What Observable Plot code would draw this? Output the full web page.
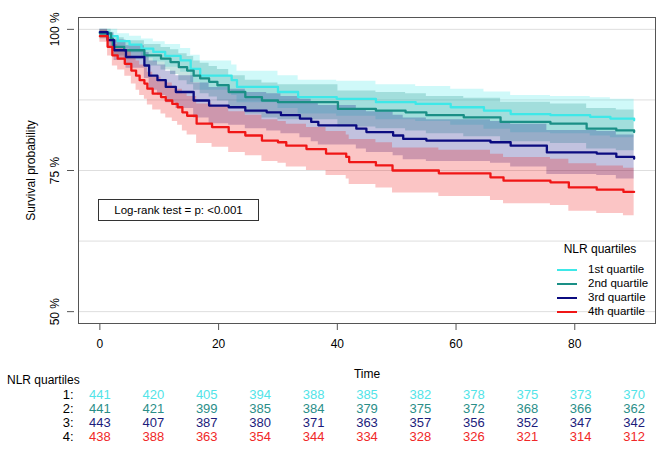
<!DOCTYPE html>
<html><head><meta charset="utf-8">
<script src="https://cdn.jsdelivr.net/npm/d3@7"></script>
<script src="https://cdn.jsdelivr.net/npm/@observablehq/plot@0.6"></script>
<style>
body{margin:0;background:#fff;font-family:"Liberation Sans",Arial,sans-serif;}
#wrap{position:relative;width:669px;height:453px;overflow:hidden;}
#wrap svg{display:block;}
.ov{position:absolute;font-family:"Liberation Sans",Arial,sans-serif;color:#000;white-space:nowrap;}
</style></head><body><div id="wrap"></div><script>
const groups = ["1st quartile","2nd quartile","3rd quartile","4th quartile"];
const lineColors = ["#3ee8e8","#1a8f86","#0b0b80","#f01616"];
const tableColors = ["#52e4e8","#2a8e88","#1c1c7c","#f02828"];
const rowLabels = ["1","2","3","4"];

// [time, survival %, lower CI %, upper CI %]
const q1 = [[0,99.5,98.5,100],[1.5,98.8,97.6,100],[3,97.9,96.6,99.2],[5,97.3,95.8,98.8],[7,96.6,94.9,98.3],[9,96.0,94.2,97.8],[11,95.3,93.3,97.3],[13.6,94.5,92.4,96.6],[15.3,93.0,90.6,95.4],[16.9,91.8,89.2,94.4],[22.2,91.0,88.3,93.7],[23.1,89.8,87.0,92.6],[30,88.9,86.0,91.8],[33.4,88.0,85.0,91.0],[39.9,87.7,84.6,90.8],[46.5,87.1,84.0,90.2],[53.2,86.8,83.7,89.9],[59.1,86.2,83.0,89.4],[64.7,85.6,82.3,88.9],[69.2,85.0,81.7,88.3],[75.9,84.8,81.5,88.1],[82.6,84.5,81.1,87.9],[86,84.2,80.8,87.6],[90,83.9,80.5,87.3]];
const q2 = [[0,99.3,98.3,100],[1.9,98.3,97.1,99.5],[2.2,96.9,95.3,98.5],[4.1,96.3,94.6,98.0],[7.5,95.4,93.5,97.3],[10.3,94.8,92.8,96.8],[11.9,94.2,92.0,96.4],[13.3,93.3,90.9,95.7],[14.7,92.7,90.2,95.2],[15.8,91.8,89.2,94.4],[16.9,91.3,88.6,94.0],[18.4,90.7,88.0,93.4],[19.8,90.1,87.3,92.9],[21.7,88.9,86.0,91.8],[24.5,88.0,85.0,91.0],[27.3,87.4,84.3,90.5],[30,87.1,84.0,90.2],[40.1,85.9,82.7,89.1],[46.5,85.6,82.4,88.8],[51.5,85.3,82.0,88.6],[55,84.8,81.5,88.1],[61.3,84.4,81.0,87.8],[67.5,83.6,80.1,87.1],[75.9,83.3,79.8,86.8],[82,82.4,78.8,86.0],[87,82.1,78.5,85.7],[90,81.8,78.2,85.4]];
const q3 = [[0,99.5,98.5,100],[1.3,98.1,96.8,99.4],[2.4,96.3,94.5,98.1],[4.4,95.1,93.1,97.1],[7.5,93.6,91.3,95.9],[8.3,91.8,89.2,94.4],[9.7,91.0,88.3,93.7],[11.1,89.8,87.0,92.6],[12.8,88.9,86.0,91.8],[15.8,87.4,84.3,90.5],[18.4,86.5,83.3,89.7],[21.7,86.2,83.0,89.4],[24.5,85.6,82.4,88.8],[28.1,85.3,82.0,88.6],[30.5,84.8,81.5,88.1],[33.7,84.2,80.8,87.6],[35.6,83.6,80.1,87.1],[36.8,83.0,79.5,86.5],[43.2,82.4,78.8,86.0],[44.9,81.8,78.2,85.4],[49.4,81.2,77.6,84.8],[51.1,80.6,76.9,84.3],[55,80.3,76.6,84.0],[65.8,80.0,76.3,83.7],[69.2,79.4,75.6,83.2],[75.3,78.2,74.3,82.1],[83.7,78.0,74.1,81.9],[87,77.4,73.5,81.3],[90,77.1,73.2,81.0]];
const q4 = [[0,98.8,97.7,99.9],[1.3,96.9,95.3,98.5],[2.1,95.4,93.5,97.3],[3.0,94.8,92.8,96.8],[4.2,93.9,91.7,96.1],[5.3,92.7,90.3,95.1],[6.1,91.8,89.2,94.4],[6.7,91.0,88.3,93.7],[7.5,90.4,87.6,93.2],[8.0,89.5,86.6,92.4],[8.9,88.6,85.7,91.5],[10.3,88.0,85.0,91.0],[11.1,87.4,84.3,90.5],[12.2,86.8,83.7,89.9],[13.1,86.2,83.0,89.4],[13.9,85.3,82.0,88.6],[14.7,84.7,81.3,88.1],[16.3,83.3,79.8,86.8],[18.9,82.7,79.1,86.3],[21.7,81.8,78.2,85.4],[24.5,81.2,77.6,84.8],[27.3,80.3,76.6,84.0],[30,80.0,76.3,83.7],[31.4,79.4,75.6,83.2],[34.8,78.8,75.0,82.6],[38.1,78.0,74.1,81.9],[41.5,77.4,73.5,81.3],[42,76.5,72.5,80.5],[46.5,75.9,71.9,79.9],[49.3,75.0,71.0,79.0],[57.1,74.5,70.4,78.6],[65.8,73.8,69.7,77.9],[68,73.2,69.1,77.3],[75.9,72.9,68.8,77.0],[79,72.0,67.8,76.2],[83.7,71.6,67.4,75.8],[88.2,71.2,67.0,75.4],[90,71.2,67.0,75.4]];

const riskTimes = [0,9,18,27,36,45,54,63,72,81,90];
const risk1 = [441,420,405,394,388,385,382,378,375,373,370];
const risk2 = [441,421,399,385,384,379,375,372,368,366,362];
const risk3 = [443,407,387,380,371,363,357,356,352,347,342];
const risk4 = [438,388,363,354,344,334,328,326,321,314,312];

const xTicks = [0,20,40,60,80];
const yTicks = [50,75,100];
const yGrid = [50,62.5,75,87.5,100];
const xLabel = "Time";
const yLabel = "Survival probability";
const legendTitle = "NLR quartiles";
const pText = "Log-rank test = p: <0.001";

const curves = [q1,q2,q3,q4].flatMap((arr,i)=>arr.map(([t,s,lo,hi])=>({t,s,lo,hi,g:groups[i]})));
const font = "Liberation Sans, Arial, sans-serif";

const main = Plot.plot({
  width:669, height:380, marginLeft:78, marginRight:14, marginTop:17, marginBottom:57,
  style:{fontFamily:font, fontSize:"12px", color:"#000", background:"white"},
  x:{domain:[-3.6,93.6]},
  y:{domain:[47.9,102.1]},
  color:{domain:groups, range:lineColors},
  marks:[
    Plot.ruleY(yGrid,{stroke:"#dedede", strokeWidth:1}),
    Plot.areaY(curves,{x:"t", y1:"lo", y2:"hi", fill:"g", fillOpacity:0.25, curve:"step-after"}),
    Plot.line(curves,{x:"t", y:"s", stroke:"g", strokeWidth:2.3, curve:"step-after"}),
    Plot.frame({stroke:"#555"}),
    Plot.axisX({ticks:xTicks, tickSize:7, tickPadding:9, stroke:"#555", fontSize:12, label:xLabel, labelAnchor:"center", labelArrow:"none", labelOffset:54}),
    Plot.axisY({ticks:yTicks, tickSize:7, tickPadding:9, dx:-4, stroke:"#555", fontSize:12, tickRotate:-90, tickFormat:d=>d+" %", label:yLabel, labelAnchor:"center", labelArrow:"none", labelOffset:52})
  ]
});

const riskRows = riskTimes.flatMap((t,j)=>[risk1,risk2,risk3,risk4].map((r,i)=>({t, n:r[j], row:rowLabels[i]})));
const table = Plot.plot({
  width:669, height:73, marginLeft:78, marginRight:14, marginTop:13, marginBottom:17,
  style:{fontFamily:font, fontSize:"13px", color:"#000", background:"white"},
  x:{domain:[-3.6,93.6], axis:null},
  y:{domain:rowLabels, type:"point", padding:0, axis:null},
  color:{domain:rowLabels, range:tableColors},
  marks:[
    Plot.axisY({tickSize:0, tickPadding:5, fontSize:13, tickFormat:d=>d+":", label:null}),
    Plot.text(riskRows,{x:"t", y:"row", text:"n", fill:"row", fontSize:13})
  ]
});

const wrap = document.getElementById("wrap");
wrap.appendChild(main);
wrap.appendChild(table);

function ov(html, css){const d=document.createElement("div");d.className="ov";d.style.cssText=css;d.innerHTML=html;wrap.appendChild(d);return d;}
// log-rank box
ov(pText,"left:98px;top:199px;width:159px;height:20px;border:1px solid #333;font-size:11.5px;line-height:20px;text-align:center;background:#fff;");
// legend
ov(legendTitle,"left:550px;top:241px;width:100px;text-align:center;font-size:12px;line-height:16px;");
groups.forEach((g,i)=>{
  ov(`<span style="display:inline-block;width:20px;height:0;border-top:2px solid ${lineColors[i]};vertical-align:middle;margin-right:11px"></span>${g}`,
     `left:557px;top:${262+i*14}px;font-size:11.5px;line-height:14px;`);
});
// risk table header
ov(legendTitle,"left:7px;top:373px;font-size:12px;line-height:14px;");
</script></body></html>
